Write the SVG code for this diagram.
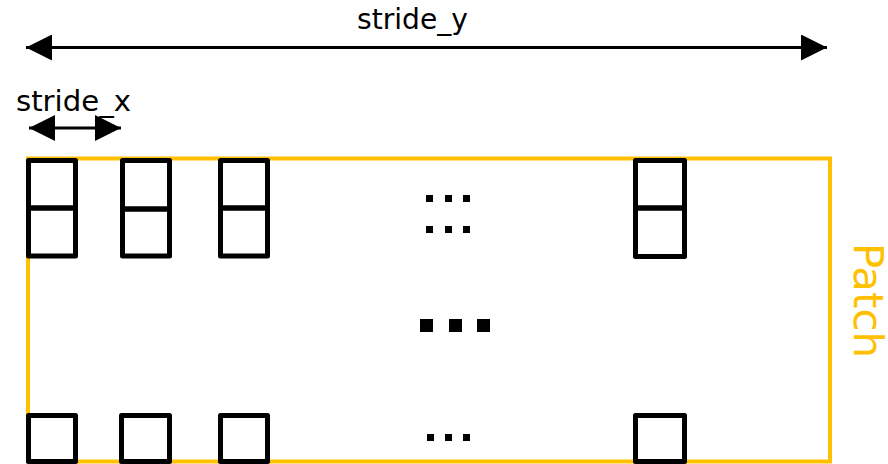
<svg xmlns="http://www.w3.org/2000/svg" width="888" height="464" viewBox="0 0 888 464">
<style>
.lbl{font-family:"DejaVu Sans","Liberation Sans",sans-serif;fill:#000}
.patch{font-family:"DejaVu Sans","Liberation Sans",sans-serif;fill:#FFC000;font-size:40px}
.cell{fill:none;stroke:#000;stroke-width:5;stroke-linejoin:round}
.frame{fill:none;stroke:#FFC000;stroke-width:4}
.arr{stroke:#000;stroke-width:3;fill:none}
</style>
<defs>
<marker id="ah" markerUnits="userSpaceOnUse" markerWidth="26" markerHeight="26" viewBox="0 0 26 26" refX="26" refY="13" orient="auto-start-reverse">
<path d="M0,0 L26,13 L0,26 Z" fill="#000"/>
</marker>
</defs>
<rect x="0" y="0" width="888" height="464" fill="#fff"/>
<g id="patch">
<rect class="frame" x="28" y="158.5" width="802" height="303"/>
<text class="patch" transform="translate(854,243) rotate(90)" textLength="115" lengthAdjust="spacingAndGlyphs">Patch</text>
</g>
<g id="col1">
<rect class="cell" x="28.5" y="160.5" width="47" height="47.5"/>
<rect class="cell" x="28.5" y="208" width="47" height="48"/>
</g>
<g id="col2">
<rect class="cell" x="122.5" y="160.5" width="47" height="48.5"/>
<rect class="cell" x="122.5" y="209" width="47" height="47"/>
</g>
<g id="col3">
<rect class="cell" x="220.5" y="160.5" width="47" height="47.5"/>
<rect class="cell" x="220.5" y="208" width="47" height="48"/>
</g>
<g id="col4">
<rect class="cell" x="635.5" y="160.5" width="49" height="47.5"/>
<rect class="cell" x="635.5" y="208" width="49" height="48.5"/>
</g>
<g id="row-bottom">
<rect class="cell" x="28.5" y="415.5" width="47" height="46"/>
<rect class="cell" x="121.5" y="415.5" width="48" height="46"/>
<rect class="cell" x="220.5" y="415.5" width="47" height="46"/>
<rect class="cell" x="635.5" y="415.5" width="49" height="46"/>
</g>
<g id="ellipses">
<rect x="426" y="195" width="7" height="7"/>
<rect x="445" y="195" width="7" height="7"/>
<rect x="463" y="195" width="7" height="7"/>
<rect x="426" y="226" width="7" height="7"/>
<rect x="445" y="226" width="7" height="7"/>
<rect x="463" y="226" width="7" height="7"/>
<rect x="420" y="319" width="13" height="13"/>
<rect x="449" y="319" width="13" height="13"/>
<rect x="477" y="319" width="13" height="13"/>
<rect x="427" y="434" width="7" height="7"/>
<rect x="445" y="434" width="7" height="7"/>
<rect x="463" y="434" width="7" height="7"/>
</g>
<g id="connectors">
<line class="arr" x1="26" y1="47.5" x2="827" y2="47.5" marker-start="url(#ah)" marker-end="url(#ah)"/>
<line class="arr" x1="29" y1="128" x2="121" y2="128" marker-start="url(#ah)" marker-end="url(#ah)"/>
</g>
<g id="labels">
<text class="lbl" x="412.5" y="29" font-size="28" text-anchor="middle" textLength="111" lengthAdjust="spacingAndGlyphs">stride_y</text>
<text class="lbl" x="16" y="111" font-size="28" textLength="115" lengthAdjust="spacingAndGlyphs">stride_x</text>
</g>
</svg>
